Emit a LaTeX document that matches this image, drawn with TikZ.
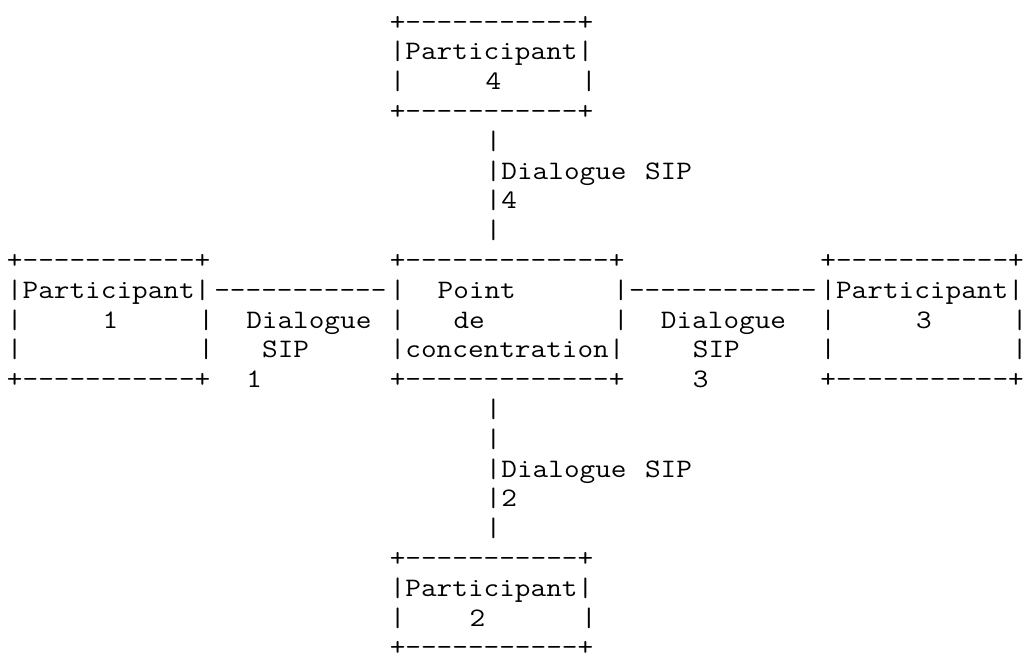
\documentclass[tikz,border=0pt]{standalone}
\usepackage{fontspec}
\newcommand\asciifont{\ttfamily\fontsize{26.67}{30}\selectfont}
\tikzset{asc/.style={anchor=base west, inner sep=0pt, outer sep=0pt, font=\asciifont, text=black}}
\newcommand\asc[4]{\node[asc] (#1) at ({(7+15.95*#2)*1pt},{-(268.5+29.8*(#3-9))*1pt}) {\scalebox{1.1391}[1]{#4}};}
\newcommand\dA{-{}-{}-{}-{}-{}-{}-{}-{}-{}-{}-{}}
\newcommand\dB{\dA-{}}
\newcommand\dC{\dA-{}-{}}
\begin{document}
\begin{tikzpicture}
\fill[white] (0,0) rectangle (1029pt,-662pt);
\useasboundingbox (0,0) rectangle (1029pt,-662pt);
% participant 4
\asc{t1}{24}{1}{+\dA+}
\asc{t2}{24}{2}{|Participant|}
\asc{t3a}{24}{3}{|}\asc{t3b}{30}{3}{4}\asc{t3c}{36}{3}{|}
\asc{t4}{24}{4}{+\dA+}
\asc{v5}{30}{5}{|}
\asc{v6}{30}{6}{|}\asc{l6a}{31}{6}{Dialogue}\asc{l6b}{40}{6}{SIP}
\asc{v7}{30}{7}{|}\asc{l7}{31}{7}{4}
\asc{v8}{30}{8}{|}
% row 9
\asc{a9}{0}{9}{+\dA+}\asc{b9}{24}{9}{+\dC+}\asc{c9}{51}{9}{+\dA+}
% row 10
\asc{a10}{0}{10}{|Participant|}\asc{h10a}{13}{10}{\dA}\asc{b10a}{24}{10}{|}
\asc{b10b}{27}{10}{Point}\asc{b10c}{38}{10}{|}\asc{h10b}{39}{10}{\dB}
\asc{c10}{51}{10}{|Participant|}
% row 11
\asc{a11a}{0}{11}{|}\asc{a11b}{6}{11}{1}\asc{a11c}{12}{11}{|}
\asc{l11a}{15}{11}{Dialogue}
\asc{b11a}{24}{11}{|}\asc{b11b}{28}{11}{de}\asc{b11c}{38}{11}{|}
\asc{l11b}{41}{11}{Dialogue}
\asc{c11a}{51}{11}{|}\asc{c11b}{57}{11}{3}\asc{c11c}{63}{11}{|}
% row 12
\asc{a12a}{0}{12}{|}\asc{a12b}{12}{12}{|}
\asc{l12a}{16}{12}{SIP}
\asc{b12}{24}{12}{|concentration|}
\asc{l12b}{43}{12}{SIP}
\asc{c12a}{51}{12}{|}\asc{c12b}{63}{12}{|}
% row 13
\asc{a13}{0}{13}{+\dA+}\asc{l13a}{15}{13}{1}\asc{b13}{24}{13}{+\dC+}
\asc{l13b}{43}{13}{3}\asc{c13}{51}{13}{+\dA+}
% participant 2 link
\asc{v14}{30}{14}{|}
\asc{v15}{30}{15}{|}
\asc{v16}{30}{16}{|}\asc{l16a}{31}{16}{Dialogue}\asc{l16b}{40}{16}{SIP}
\asc{v17}{30}{17}{|}\asc{l17}{31}{17}{2}
\asc{v18}{30}{18}{|}
% participant 2
\asc{d19}{24}{19}{+\dA+}
\asc{d20}{24}{20}{|Participant|}
\asc{d21a}{24}{21}{|}\asc{d21b}{29}{21}{2}\asc{d21c}{36}{21}{|}
\asc{d22}{24}{22}{+\dA+}
\end{tikzpicture}
\end{document}
